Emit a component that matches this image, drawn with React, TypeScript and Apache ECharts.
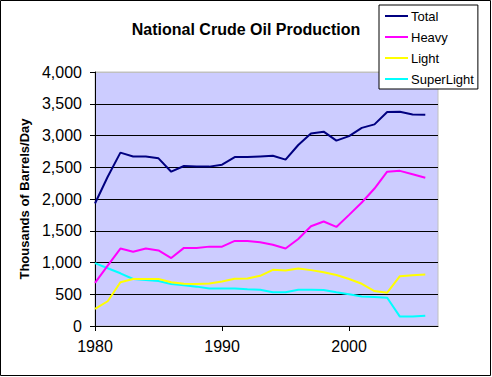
import React, { useEffect, useRef } from "react";
import * as echarts from "echarts";

const years = [1980, 1981, 1982, 1983, 1984, 1985, 1986, 1987, 1988, 1989, 1990, 1991, 1992, 1993, 1994, 1995, 1996, 1997, 1998, 1999, 2000, 2001, 2002, 2003, 2004, 2005, 2006];
const total = [1930, 2350, 2730, 2670, 2670, 2640, 2430, 2520, 2510, 2510, 2540, 2660, 2660, 2670, 2680, 2620, 2850, 3030, 3060, 2920, 2990, 3120, 3175, 3370, 3375, 3330, 3325];
const heavy = [680, 950, 1220, 1170, 1220, 1190, 1070, 1230, 1230, 1250, 1250, 1340, 1340, 1320, 1280, 1220, 1370, 1570, 1645, 1560, 1750, 1945, 2165, 2430, 2443, 2391, 2335];
const light = [270, 390, 690, 740, 740, 740, 690, 665, 660, 670, 700, 745, 748, 790, 885, 875, 905, 880, 845, 802, 740, 665, 550, 524, 785, 800, 810];
const superLight = [990, 910, 830, 740, 725, 710, 660, 640, 620, 590, 590, 590, 578, 570, 530, 530, 570, 570, 566, 530, 500, 465, 456, 444, 148, 148, 163];
const seriesNames = ["Total", "Heavy", "Light", "SuperLight"];
const seriesColors = ["#000080", "#FF00FF", "#FFFF00", "#00FFFF"];
const xTicks = [1980, 1990, 2000];

const FONT = "'Liberation Sans', Arial, sans-serif";

export default function App() {
  const ref = useRef<HTMLDivElement>(null);
  useEffect(() => {
    document.body.style.margin = "0";
    const chart = echarts.init(ref.current!, null, { renderer: "svg" });
    const datasets = [total, heavy, light, superLight];
    chart.setOption({
      animation: false,
      backgroundColor: "#ffffff",
      textStyle: { fontFamily: FONT },
      title: {
        text: "National Crude Oil Production",
        left: "center",
        top: 16,
        textStyle: { fontFamily: FONT, fontSize: 16, fontWeight: "bold", color: "#000" },
      },
      graphic: [
        {
          type: "rect",
          shape: { x: 0.5, y: 0.5, width: 490, height: 375 },
          style: { fill: "none", stroke: "#000", lineWidth: 1 },
          silent: true,
        },
      ],
      legend: {
        orient: "vertical",
        left: 379,
        top: 5,
        padding: [3, 4, 2, 6],
        itemGap: 5,
        itemWidth: 23,
        itemHeight: 2,
        icon: "rect",
        borderColor: "#000",
        borderWidth: 1,
        backgroundColor: "#fff",
        textStyle: { fontFamily: FONT, fontSize: 13, color: "#000", padding: [0, 0, 0, -2], lineHeight: 16 },
        data: seriesNames,
      },
      grid: {
        left: 95,
        top: 72,
        right: 54,
        bottom: 51,
        show: true,
        backgroundColor: "#CCCCFF",
        borderColor: "#C0C0C0",
        borderWidth: 1,
      },
      xAxis: {
        type: "value",
        min: 1980,
        max: 2007,
        interval: 10,
        axisLine: { show: true, lineStyle: { color: "#000", width: 1 } },
        axisTick: { show: true, length: 5, lineStyle: { color: "#000" }, customValues: xTicks },
        axisLabel: {
          fontFamily: FONT,
          fontSize: 16,
          color: "#000",
          margin: 12,
          customValues: xTicks,
          formatter: (v: number) => String(v),
        },
        splitLine: { show: false },
      },
      yAxis: {
        type: "value",
        min: 0,
        max: 4000,
        interval: 500,
        name: "Thousands of Barrels/Day",
        nameLocation: "middle",
        nameGap: 63,
        nameTextStyle: { fontFamily: FONT, fontSize: 13, fontWeight: "bold", color: "#000" },
        axisLine: { show: true, lineStyle: { color: "#000", width: 1 } },
        axisTick: { show: true, length: 5, lineStyle: { color: "#000" } },
        axisLabel: {
          fontFamily: FONT,
          fontSize: 16,
          color: "#000",
          margin: 13,
          formatter: (v: number) => v.toLocaleString("en-US"),
        },
        splitLine: {
          show: true,
          lineStyle: {
            color: ["#000", "#000", "#000", "#000", "#000", "#000", "#000", "#000", "#C0C0C0"],
            width: 1,
          },
        },
      },
      series: seriesNames.map((name, i) => ({
        name,
        type: "line",
        data: years.map((y, j) => [y, datasets[i][j]]),
        symbol: "none",
        lineStyle: { color: seriesColors[i], width: 2 },
        itemStyle: { color: seriesColors[i] },
        z: 10 - i,
      })),
    });
    return () => chart.dispose();
  }, []);
  return <div ref={ref} style={{ width: 492, height: 377 }} />;
}
